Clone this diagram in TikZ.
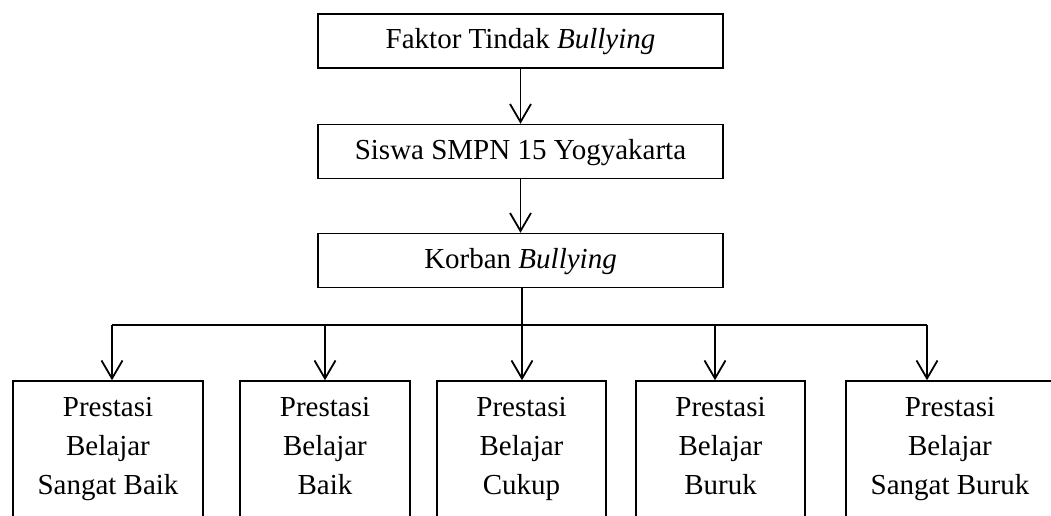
\documentclass[tikz,border=0pt]{standalone}
\usepackage{fontspec}
\setmainfont{Liberation Serif}
\usetikzlibrary{arrows.meta}
\tikzstyle{box}=[draw, line width=0.75pt, minimum width=202.5pt, minimum height=27pt, inner sep=0pt, font=\fontsize{14.5}{19.5}\selectfont, execute at begin node=\strut, execute at end node=\strut]
\tikzstyle{hasil}=[box, align=center, minimum height=71pt]
\tikzstyle{arr}=[line width=0.9pt, -{Straight Barb[length=9pt,width=10.5pt]}]

\begin{document}
\begin{tikzpicture}[x=0.5pt, y=-0.5pt]
            \useasboundingbox (0,0) rectangle (1051,515);
            \clip (0,0) rectangle (1051,515);
            \node[box] (faktor) at (520.5,41){Faktor Tindak \textit{Bullying}};
            \node[box] (siswa) at (520.5,151.5){Siswa SMPN 15 Yogyakarta};
            \node[box] (korban) at (520.5,260.5){Korban \textit{Bullying}};
            \node[hasil, minimum width=95pt] (sb) at (108,452){Prestasi\\Belajar\\Sangat Baik};
            \node[hasil, minimum width=85pt] (baik) at (325,452){Prestasi\\Belajar\\Baik};
            \node[hasil, minimum width=84.5pt] (cukup) at (521.5,452){Prestasi\\Belajar\\Cukup};
            \node[hasil, minimum width=84.5pt] (buruk) at (720.5,452){Prestasi\\Belajar\\Buruk};
            \node[hasil, minimum width=104pt] (sburuk) at (950,452){Prestasi\\Belajar\\Sangat Buruk};
            \coordinate (j1) at (112,325);
            \coordinate (j2) at (325,325);
            \coordinate (j3) at (522,325);
            \coordinate (j4) at (715,325);
            \coordinate (j5) at (927,325);
            \path[arr]
                (faktor) edge (siswa)
                (siswa) edge (korban)
                (korban.south -| j3) edge (j3 |- cukup.north)
                (j1) edge (j1 |- sb.north)
                (j2) edge (j2 |- baik.north)
                (j4) edge (j4 |- buruk.north)
                (j5) edge (j5 |- sburuk.north)
            ;
            \draw[line width=0.9pt] (j1) -- (j5);
        \end{tikzpicture}
\end{document}
